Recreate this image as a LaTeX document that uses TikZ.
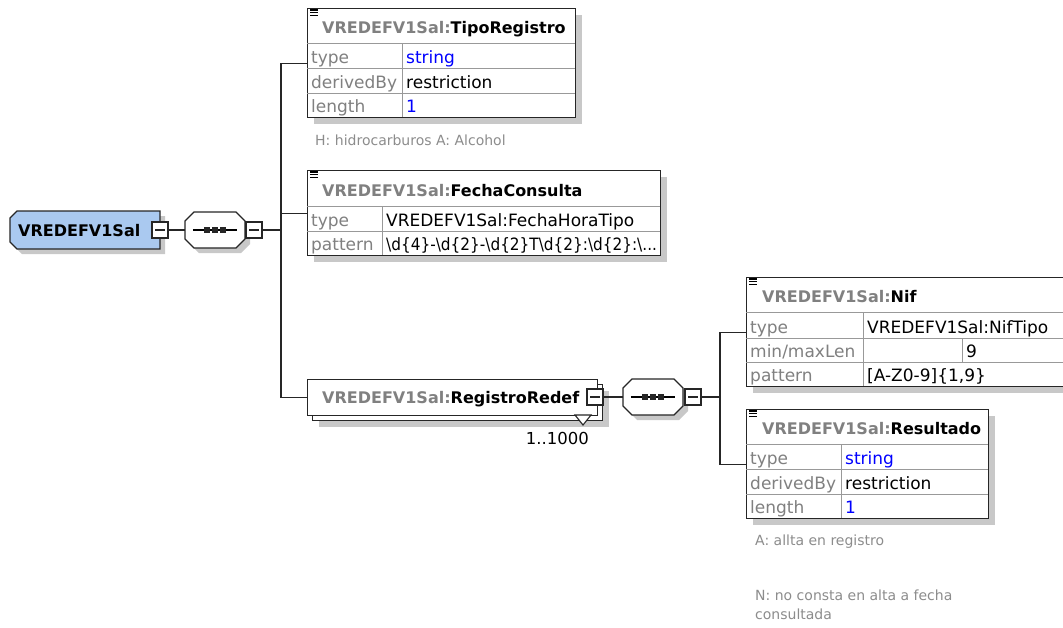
\documentclass[tikz,border=0pt]{standalone}
\usepackage{fontspec}
\setmainfont{DejaVu Sans}
\usetikzlibrary{positioning,shadows}

\definecolor{rootblue}{RGB}{170,201,240}
\definecolor{shadowgray}{RGB}{200,200,200}
\definecolor{labgray}{RGB}{128,128,128}
\definecolor{notegray}{RGB}{140,140,140}
\definecolor{valblue}{RGB}{0,0,255}

\newcommand\nsp{\textcolor{labgray}{VREDEFV1Sal:}}
\newcommand\docicon[2]{\foreach \k in {0,1,2} \draw[line width=1.1pt] (#1,{#2+\k*2.6}) -- ++(8,0);}
% octagon of a sequence compositor, around (0,0)
\newcommand\octagon{(-21,-18) -- (21,-18) -- (30,-9) -- (30,9) -- (21,18) -- (-21,18) -- (-30,9) -- (-30,-9) -- cycle}
\newcommand\rootshape{(17,211) -- (160,211) -- (160,249) -- (17,249) -- (10,242) -- (10,218) -- cycle}

\tikzset{
  elembox/.style={draw=black!85, line width=1.3pt, fill=white, anchor=north west, inner sep=0pt},
  shadowed/.style={drop shadow={shadow xshift=6pt, shadow yshift=-6pt, fill=shadowgray, opacity=1}},
  gridline/.style={draw=black!40, line width=1pt},
  conn/.style={draw=black!85, line width=1.3pt},
  outline/.style={draw=black!85, line width=1.3pt},
  minusbox/.style={draw=black!85, line width=1.3pt, fill=white, minimum size=16pt, inner sep=0pt,
    path picture={\draw[line width=1.1pt] ([xshift=3pt]path picture bounding box.west) -- ([xshift=-3pt]path picture bounding box.east);}},
  seqarea/.style={minimum width=60pt, minimum height=36pt, inner sep=0pt},
  titletext/.style={anchor=base west, inner sep=0pt, font=\fontsize{16}{19}\selectfont\bfseries},
  rowlabel/.style={anchor=base west, inner sep=0pt, font=\fontsize{17}{20}\selectfont, text=labgray},
  rowvalue/.style={anchor=base west, inner sep=0pt, font=\fontsize{17}{20}\selectfont},
  notetext/.style={anchor=base west, inner sep=0pt, font=\fontsize{14}{19}\selectfont, text=notegray},
}

\begin{document}
\begin{tikzpicture}[x=1pt,y=-1pt]
    \useasboundingbox (0,0) rectangle (1063,627);

    % Root element
    \fill[shadowgray, shift={(5,5)}] \rootshape;
    \filldraw[outline, fill=rootblue] \rootshape;
    \node[minimum width=150pt, minimum height=38pt, inner sep=0pt] (root) at (85,230) {};
    \node[titletext] (roott) at (18,236) {VREDEFV1Sal};
    \node[minusbox] (rootm) at (160,230) {};

    % First sequence
    \fill[shadowgray, shift={(220,235)}] \octagon;
    \filldraw[outline, fill=white, shift={(215,230)}] \octagon;
    \node[seqarea] (seq1) at (215,230) {};
    \draw[line width=1.3pt] ([xshift=8pt]seq1.west) -- ([xshift=-8pt]seq1.east);
    \foreach \d in {-8,0,8}
        \fill[black!85] ([xshift=\d pt]seq1.center) ++(-3,-3) rectangle ++(6,6);
    \node[minusbox] (seq1m) at (254,230) {};
    \coordinate (bus1) at (281,230);

    \draw[conn] (rootm) -- (seq1);
    \draw[conn] (seq1m) -- (bus1);

    % TipoRegistro
    \node[elembox, shadowed, minimum width=268pt, minimum height=109pt] (tipo) at (307,8) {};
    \draw[gridline] (307,43) -- (575,43);
    \foreach \y in {68,93}
        \draw[gridline] (307,\y) -- (575,\y);
    \draw[gridline] (402,43) -- (402,117);
    \docicon{310}{10}
    \node[titletext] (tipot) at (322,33) {\nsp TipoRegistro};
    \node[rowlabel] at (311,63) {type};
    \node[rowlabel] at (311,88) {derivedBy};
    \node[rowlabel] at (311,112) {length};
    \node[rowvalue, text=valblue] at (406,63) {string};
    \node[rowvalue] at (406,88) {restriction};
    \node[rowvalue, text=valblue] at (406,112) {1};
    \node[notetext] (tipon) at (315,145) {H: hidrocarburos A: Alcohol};

    % FechaConsulta
    \node[elembox, shadowed, minimum width=353pt, minimum height=85pt] (fecha) at (307,170) {};
    \draw[gridline] (307,206) -- (660,206);
    \draw[gridline] (307,231) -- (660,231);
    \draw[gridline] (382,206) -- (382,255);
    \docicon{310}{172}
    \node[titletext] (fechat) at (322,196) {\nsp FechaConsulta};
    \node[rowlabel] at (311,226) {type};
    \node[rowlabel] at (311,250) {pattern};
    \node[rowvalue] at (386,226) {VREDEFV1Sal:FechaHoraTipo};
    \node[rowvalue] at (386,250) {\scalebox{0.9}[1]{\textbackslash d\{4\}-\textbackslash d\{2\}-\textbackslash d\{2\}T\textbackslash d\{2\}:\textbackslash d\{2\}:\textbackslash...}};

    % RegistroRedef (repeated)
    \node[elembox, shadowed, minimum width=290pt, minimum height=36pt] (redefback) at (312,384) {};
    \node[elembox, minimum width=290pt, minimum height=36pt] (redef) at (307,379) {};
    \node[titletext] (redeft) at (322,403) {\nsp RegistroRedef};
    \filldraw[draw=black!85, fill=white, line width=1.1pt] (575,415) -- (583,425) -- (591,415) -- cycle;
    \node[minusbox] (redefm) at (595,397) {};
    \node[anchor=base east, inner sep=0pt, font=\fontsize{16.5}{20}\selectfont] (redefmult) at (589,444) {1..1000};

    \draw[conn] (bus1) |- (tipo.west);
    \draw[conn] (bus1) |- (fecha.west);
    \draw[conn] (bus1) |- (redef.west);

    % Second sequence
    \fill[shadowgray, shift={(658,402)}] \octagon;
    \filldraw[outline, fill=white, shift={(653,397)}] \octagon;
    \node[seqarea] (seq2) at (653,397) {};
    \draw[line width=1.3pt] ([xshift=8pt]seq2.west) -- ([xshift=-8pt]seq2.east);
    \foreach \d in {-8,0,8}
        \fill[black!85] ([xshift=\d pt]seq2.center) ++(-3,-3) rectangle ++(6,6);
    \node[minusbox] (seq2m) at (693,397) {};
    \coordinate (bus2) at (720,397);

    \draw[conn] (redefm) -- (seq2);
    \draw[conn] (seq2m) -- (bus2);

    % Nif
    \node[elembox, shadowed, minimum width=330pt, minimum height=109pt] (nif) at (746,277) {};
    \draw[gridline] (746,312) -- (1076,312);
    \foreach \y in {338,362}
        \draw[gridline] (746,\y) -- (1076,\y);
    \draw[gridline] (863,312) -- (863,386);
    \draw[gridline] (962,338) -- (962,362);
    \docicon{749}{279}
    \node[titletext] (nift) at (762,302) {\nsp Nif};
    \node[rowlabel] at (750,333) {type};
    \node[rowlabel] at (750,357) {min/maxLen};
    \node[rowlabel] at (750,381) {pattern};
    \node[rowvalue] at (867,333) {VREDEFV1Sal:NifTipo};
    \node[rowvalue] at (966,357) {9};
    \node[rowvalue] at (867,381) {[A-Z0-9]\{1,9\}};

    % Resultado
    \node[elembox, shadowed, minimum width=242pt, minimum height=109pt] (resul) at (746,409) {};
    \draw[gridline] (746,444) -- (988,444);
    \foreach \y in {469,494}
        \draw[gridline] (746,\y) -- (988,\y);
    \draw[gridline] (841,444) -- (841,518);
    \docicon{749}{411}
    \node[titletext] (result) at (762,434) {\nsp Resultado};
    \node[rowlabel] at (750,464) {type};
    \node[rowlabel] at (750,489) {derivedBy};
    \node[rowlabel] at (750,513) {length};
    \node[rowvalue, text=valblue] at (845,464) {string};
    \node[rowvalue] at (845,489) {restriction};
    \node[rowvalue, text=valblue] at (845,513) {1};
    \node[notetext] (resuln1) at (755,545) {A: allta en registro};
    \node[notetext, align=left, anchor=north west] (resuln2) at (755,590) {N: no consta en alta a fecha\\consultada};

    \draw[conn] (bus2) |- (nif.west);
    \draw[conn] (bus2) |- (resul.west);

\end{tikzpicture}
\end{document}
